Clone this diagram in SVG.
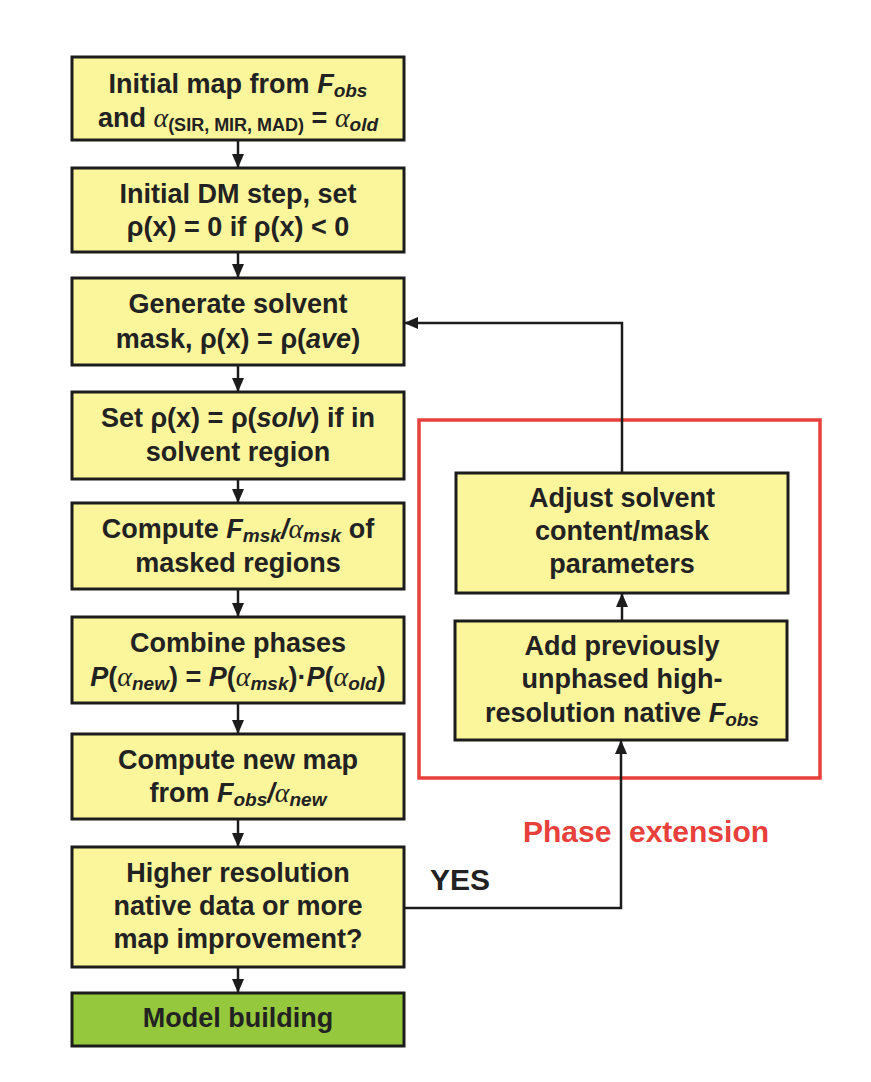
<svg xmlns="http://www.w3.org/2000/svg" width="871" height="1082" viewBox="0 0 871 1082">
<defs>
<style>
.box{fill:#fbf59c;stroke:#1c1c1c;stroke-width:3}
.green{fill:#95c83c;stroke:#1c1c1c;stroke-width:3}
.t{font-family:"Liberation Sans",Arial,sans-serif;font-weight:bold;font-size:27px;fill:#222;text-anchor:middle}
.i{font-style:italic}
.sub{font-size:19px;font-style:italic}
.subn{font-size:18px}
.al{font-family:"Liberation Serif","DejaVu Serif",serif;font-weight:normal;font-style:italic;font-size:28px}
.ln{fill:none;stroke:#1c1c1c;stroke-width:2.5}
.red{fill:none;stroke:#e8403a;stroke-width:3.5}
.lbl{font-family:"Liberation Sans",Arial,sans-serif;font-weight:bold;font-size:30px}
</style>
<marker id="ah" markerUnits="userSpaceOnUse" markerWidth="14" markerHeight="14" viewBox="0 0 14 14" refX="13" refY="7" orient="auto">
<path d="M0,1 L14,7 L0,13 Z" fill="#1c1c1c"/>
</marker>
</defs>
<rect width="871" height="1082" fill="#ffffff"/>

<g id="phase-extension-frame">
<rect class="red" x="419" y="420" width="401" height="358"/>
</g>

<g id="connectors">
<line class="ln" x1="238" y1="140" x2="238" y2="167" marker-end="url(#ah)"/>
<line class="ln" x1="238" y1="252" x2="238" y2="277" marker-end="url(#ah)"/>
<line class="ln" x1="238" y1="365" x2="238" y2="391" marker-end="url(#ah)"/>
<line class="ln" x1="238" y1="479" x2="238" y2="502" marker-end="url(#ah)"/>
<line class="ln" x1="238" y1="589" x2="238" y2="616" marker-end="url(#ah)"/>
<line class="ln" x1="238" y1="703" x2="238" y2="733" marker-end="url(#ah)"/>
<line class="ln" x1="238" y1="819" x2="238" y2="846" marker-end="url(#ah)"/>
<line class="ln" x1="238" y1="967" x2="238" y2="992" marker-end="url(#ah)"/>
<polyline class="ln" points="404,908 621,908 621,741" marker-end="url(#ah)"/>
<line class="ln" x1="622" y1="621" x2="622" y2="594" marker-end="url(#ah)"/>
<polyline class="ln" points="622,473 622,323 405,323" marker-end="url(#ah)"/>
<text class="lbl" x="430" y="890" fill="#222">YES</text>
<text class="lbl" x="523" y="842" fill="#e8403a">Phase</text>
<text class="lbl" x="629" y="842" fill="#e8403a">extension</text>
</g>

<g id="n1">
<rect class="box" x="72" y="57" width="332" height="83"/>
<text class="t" x="238" y="93">Initial map from <tspan class="i">F</tspan><tspan class="sub" dy="4">obs</tspan></text>
<text class="t" x="238" y="127">and <tspan class="al">α</tspan><tspan class="subn" dy="4">(SIR, MIR, MAD)</tspan><tspan dy="-4"> = </tspan><tspan class="al">α</tspan><tspan class="sub" dy="4">old</tspan></text>
</g>

<g id="n2">
<rect class="box" x="72" y="168" width="332" height="84"/>
<text class="t" x="238" y="203">Initial DM step, set</text>
<text class="t" x="238" y="236">ρ(x) = 0 if ρ(x) &lt; 0</text>
</g>

<g id="n3">
<rect class="box" x="72" y="278" width="332" height="87"/>
<text class="t" x="238" y="313">Generate solvent</text>
<text class="t" x="238" y="348">mask, ρ(x) = ρ(<tspan class="i">ave</tspan>)</text>
</g>

<g id="n4">
<rect class="box" x="72" y="392" width="332" height="87"/>
<text class="t" x="238" y="427">Set ρ(x) = ρ(<tspan class="i">solv</tspan>) if in</text>
<text class="t" x="238" y="461">solvent region</text>
</g>

<g id="n5">
<rect class="box" x="72" y="503" width="332" height="86"/>
<text class="t" x="238" y="538">Compute <tspan class="i">F</tspan><tspan class="sub" dy="4">msk</tspan><tspan class="i" dy="-4">/</tspan><tspan class="al">α</tspan><tspan class="sub" dy="4">msk</tspan><tspan dy="-4"> of</tspan></text>
<text class="t" x="238" y="572">masked regions</text>
</g>

<g id="n6">
<rect class="box" x="72" y="617" width="332" height="86"/>
<text class="t" x="238" y="652">Combine phases</text>
<text class="t" x="238" y="686"><tspan class="i">P</tspan>(<tspan class="al">α</tspan><tspan class="sub" dy="4">new</tspan><tspan dy="-4">) = </tspan><tspan class="i">P</tspan>(<tspan class="al">α</tspan><tspan class="sub" dy="4">msk</tspan><tspan dy="-4">)·</tspan><tspan class="i">P</tspan>(<tspan class="al">α</tspan><tspan class="sub" dy="4">old</tspan><tspan dy="-4">)</tspan></text>
</g>

<g id="n7">
<rect class="box" x="72" y="734" width="332" height="85"/>
<text class="t" x="238" y="769">Compute new map</text>
<text class="t" x="238" y="802">from <tspan class="i">F</tspan><tspan class="sub" dy="4">obs</tspan><tspan class="i" dy="-4">/</tspan><tspan class="al">α</tspan><tspan class="sub" dy="4">new</tspan></text>
</g>

<g id="n8">
<rect class="box" x="72" y="847" width="332" height="120"/>
<text class="t" x="238" y="882">Higher resolution</text>
<text class="t" x="238" y="915">native data or more</text>
<text class="t" x="238" y="948">map improvement?</text>
</g>

<g id="n9">
<rect class="green" x="72" y="993" width="332" height="53"/>
<text class="t" x="238" y="1027">Model building</text>
</g>

<g id="n10">
<rect class="box" x="456" y="473" width="332" height="120"/>
<text class="t" x="622" y="507">Adjust solvent</text>
<text class="t" x="622" y="540">content/mask</text>
<text class="t" x="622" y="573">parameters</text>
</g>

<g id="n11">
<rect class="box" x="455" y="621" width="332" height="119"/>
<text class="t" x="622" y="655">Add previously</text>
<text class="t" x="622" y="688">unphased high-</text>
<text class="t" x="622" y="722">resolution native <tspan class="i">F</tspan><tspan class="sub" dy="4">obs</tspan></text>
</g>
</svg>
